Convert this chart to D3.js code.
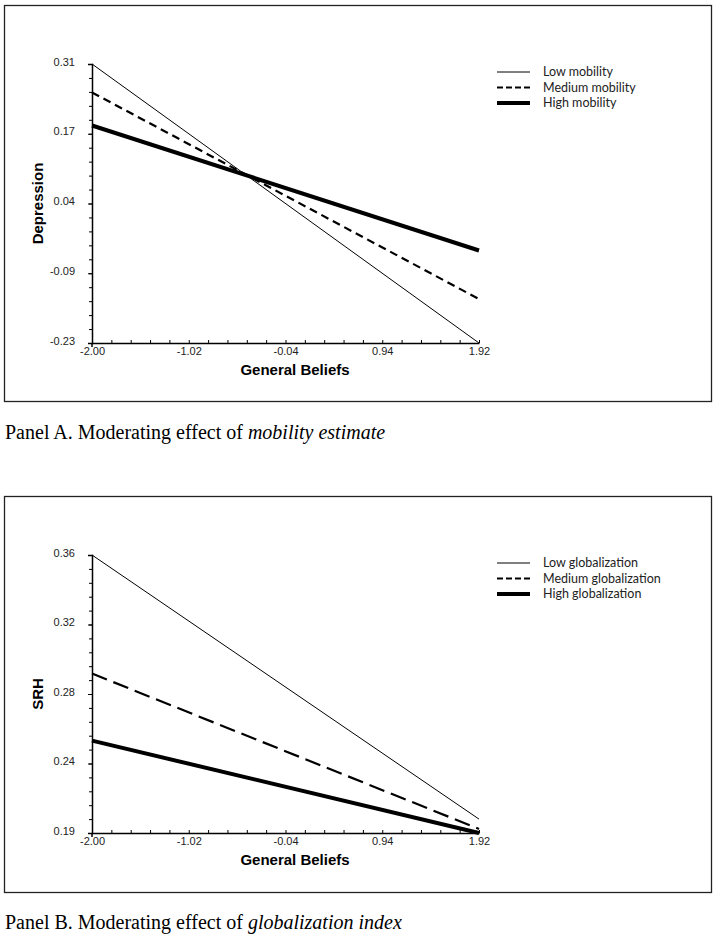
<!DOCTYPE html>
<html>
<head>
<meta charset="utf-8">
<script src="https://cdn.jsdelivr.net/npm/d3@7"></script>
<style>
  body { margin: 0; background: #fff; }
  svg { display: block; }
  .tick text { font-family: Arial, "Liberation Sans", sans-serif; font-size: 11px; fill: #222; }
  .axis path, .axis line { stroke: #000; }
  .axis-title { font-family: Arial, "Liberation Sans", sans-serif; font-size: 15px; font-weight: bold; }
  .legend text { font-family: Lato, "Open Sans", sans-serif; font-size: 12.5px; fill: #222; }
  .caption { font-family: "Liberation Serif", "Times New Roman", serif; font-size: 20px; }
</style>
</head>
<body>
<svg id="chart" width="716" height="937"></svg>
<script>
// x values shared by both panels
var xVals = [-2.00, 1.92];
var xTicks = [-2.00, -1.02, -0.04, 0.94, 1.92];
var xTickLabels = ["-2.00", "-1.02", "-0.04", "0.94", "1.92"];

// Panel A - depression by mobility
var mobSeries = ["Low mobility", "Medium mobility", "High mobility"];
var mobLow = [0.31, -0.23];
var mobMed = [0.255, -0.145];
var mobHigh = [0.191, -0.051];
var depTicks = [-0.23, -0.095, 0.04, 0.175, 0.31];
var depTickLabels = ["-0.23", "-0.09", "0.04", "0.17", "0.31"];

// Panel B - SRH by globalization
var globSeries = ["Low globalization", "Medium globalization", "High globalization"];
var globLow = [0.3625, 0.201];
var globMed = [0.290, 0.195];
var globHigh = [0.249, 0.1925];
var srhTicks = [0.1925, 0.235, 0.2775, 0.32, 0.3625];
var srhTickLabels = ["0.19", "0.24", "0.28", "0.32", "0.36"];

var svg = d3.select("#chart");

function panel(opt) {
  var top = opt.top;
  svg.append("rect")
      .attr("x", 4.5).attr("y", top + 0.5)
      .attr("width", 707).attr("height", opt.boxH)
      .attr("fill", "none").attr("stroke", "#222").attr("stroke-width", 1.3);

  var x = d3.scaleLinear().domain([xTicks[0], xTicks[4]]).range([92, 479]);
  var y = d3.scaleLinear().domain([opt.yTicks[0], opt.yTicks[4]]).range([top + opt.plotBottom, top + opt.plotTop]);

  // minor ticks: 5 subdivisions per major step
  var xMinor = d3.range(0, 21).map(function(i) { return xTicks[0] + i * (xTicks[4] - xTicks[0]) / 20; });
  var yMinor = d3.range(0, 21).map(function(i) { return opt.yTicks[0] + i * (opt.yTicks[4] - opt.yTicks[0]) / 20; });

  var g = svg.append("g");

  g.append("g")
      .attr("class", "axis")
      .attr("transform", "translate(0," + y.range()[0] + ")")
      .call(d3.axisTop(x).tickValues(xMinor).tickSize(3).tickFormat(""))
      .call(function(s) { s.select(".domain").remove(); });

  g.append("g")
      .attr("class", "axis")
      .attr("transform", "translate(0," + y.range()[0] + ")")
      .call(d3.axisBottom(x).tickValues(xTicks).tickSize(0).tickPadding(4)
          .tickFormat(function(d, i) { return xTickLabels[i]; }))
      .call(function(s) { s.select(".domain").attr("stroke-width", 1.5); });

  g.append("g")
      .attr("class", "axis")
      .attr("transform", "translate(92,0)")
      .call(d3.axisLeft(y).tickValues(yMinor).tickSize(3).tickFormat(""))
      .call(function(s) { s.select(".domain").remove(); });

  g.append("g")
      .attr("class", "axis")
      .attr("transform", "translate(92,0)")
      .call(d3.axisLeft(y).tickValues(opt.yTicks).tickSize(4).tickPadding(13)
          .tickFormat(function(d, i) { return opt.yTickLabels[i]; }))
      .call(function(s) { s.select(".domain").attr("stroke-width", 1.5); })
      .selectAll(".tick text").attr("dy", "0.1em");

  // small stub of y axis below x axis
  g.append("line")
      .attr("x1", 92).attr("x2", 92)
      .attr("y1", y.range()[0]).attr("y2", y.range()[0] + 4)
      .attr("stroke", "#000").attr("stroke-width", 1.5);

  g.append("text")
      .attr("class", "axis-title")
      .attr("x", 295).attr("y", y.range()[0] + 32)
      .attr("text-anchor", "middle")
      .text("General Beliefs");

  g.append("text")
      .attr("class", "axis-title")
      .attr("transform", "translate(43," + ((y.range()[0] + y.range()[1]) / 2) + ") rotate(-90)")
      .attr("text-anchor", "middle")
      .text(opt.yTitle);

  var line = d3.line()
      .x(function(d, i) { return x(xVals[i]); })
      .y(function(d) { return y(d); });

  var styles = [
    {w: 1, dash: null},
    {w: 2.2, dash: opt.dash},
    {w: 4, dash: null}
  ];

  opt.data.forEach(function(vals, k) {
    g.append("path")
        .datum(vals)
        .attr("fill", "none")
        .attr("stroke", "#000")
        .attr("stroke-width", styles[k].w)
        .attr("stroke-dasharray", styles[k].dash)
        .attr("d", line);
  });

  var leg = g.append("g").attr("class", "legend");
  opt.names.forEach(function(name, k) {
    var ly = top + opt.legTop + k * 15.5;
    leg.append("line")
        .attr("x1", 497).attr("x2", 530)
        .attr("y1", ly).attr("y2", ly)
        .attr("stroke", "#000")
        .attr("stroke-width", [1, 2.2, 4][k])
        .attr("stroke-dasharray", k === 1 ? "6,3" : null);
    leg.append("text")
        .attr("x", 543).attr("y", ly)
        .attr("dy", "0.35em")
        .text(name);
  });

  var cap = svg.append("text")
      .attr("class", "caption")
      .attr("x", 5).attr("y", opt.capY);
  cap.append("tspan").text(opt.capPlain);
  cap.append("tspan").attr("font-style", "italic").text(opt.capItalic);
}

panel({
  top: 5, boxH: 396, plotTop: 59, plotBottom: 338,
  yTicks: depTicks, yTickLabels: depTickLabels, yTitle: "Depression",
  data: [mobLow, mobMed, mobHigh], names: mobSeries, dash: "8,5",
  legTop: 67, capY: 439,
  capPlain: "Panel A. Moderating effect of ", capItalic: "mobility estimate"
});

panel({
  top: 496, boxH: 396, plotTop: 59, plotBottom: 337,
  yTicks: srhTicks, yTickLabels: srhTickLabels, yTitle: "SRH",
  data: [globLow, globMed, globHigh], names: globSeries, dash: "16,7",
  legTop: 67, capY: 929,
  capPlain: "Panel B. Moderating effect of ", capItalic: "globalization index"
});
</script>
</body>
</html>
